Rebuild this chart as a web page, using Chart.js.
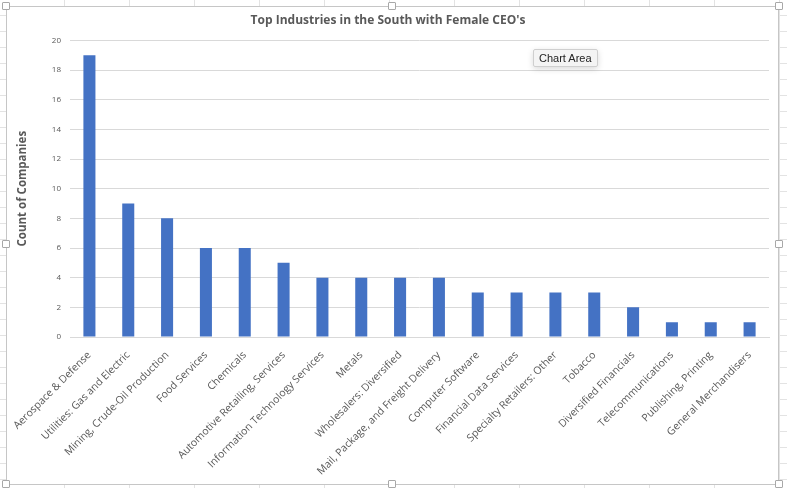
<!DOCTYPE html>
<html>
<head>
<meta charset="utf-8">
<script src="https://cdn.jsdelivr.net/npm/chart.js@4.4.1/dist/chart.umd.min.js"></script>
<style>
  html, body { margin: 0; padding: 0; }
  body {
    width: 787px; height: 488px; overflow: hidden; position: relative;
    background-color: #fff;
    background-image:
      repeating-linear-gradient(to right, transparent 0 64px, #e3e3e3 64px 65px),
      repeating-linear-gradient(to bottom, transparent 0 15px, #e3e3e3 15px 16px);
    font-family: "Liberation Sans", Arial, sans-serif;
  }
  #frame {
    position: absolute; left: 6px; top: 6px; width: 771px; height: 477px;
    border: 1px solid #c6c6c6; background: #fff;
  }
  #frame canvas { display: block; }
  .handle {
    position: absolute; width: 6px; height: 6px; background: #fff;
    border: 1px solid #a8a8a8; border-radius: 1px;
  }
  #tip {
    position: absolute; left: 533px; top: 49px; padding: 2px 5px;
    font-size: 11px; color: #222; background: #f4f4f4;
    border: 1px solid #cfcfcf; border-radius: 2px;
    box-shadow: 0 2px 6px rgba(0,0,0,0.15);
  }
</style>
</head>
<body>
<div id="frame"><canvas id="chart" width="771" height="477"></canvas></div>
<div class="handle" style="left:2px;top:2px"></div>
<div class="handle" style="left:388px;top:2px"></div>
<div class="handle" style="left:775px;top:2px"></div>
<div class="handle" style="left:2px;top:240px"></div>
<div class="handle" style="left:775px;top:240px"></div>
<div class="handle" style="left:2px;top:480px"></div>
<div class="handle" style="left:388px;top:480px"></div>
<div class="handle" style="left:775px;top:480px"></div>
<div id="tip">Chart Area</div>
<script>
const industries = [
  'Aerospace & Defense', 'Utilities: Gas and Electric', 'Mining, Crude-Oil Production',
  'Food Services', 'Chemicals', 'Automotive Retailing, Services',
  'Information Technology Services', 'Metals', 'Wholesalers: Diversified',
  'Mail, Package, and Freight Delivery', 'Computer Software', 'Financial Data Services',
  'Specialty Retailers: Other', 'Tobacco', 'Diversified Financials',
  'Telecommunications', 'Publishing, Printing', 'General Merchandisers'
];
const companyCounts = [19, 9, 8, 6, 6, 5, 4, 4, 4, 4, 3, 3, 3, 3, 2, 1, 1, 1];
const yMax = 20;
const yStep = 2;

const textGray = '#595959';
const font = '"Open Sans", "Liberation Sans", sans-serif';

new Chart(document.getElementById('chart').getContext('2d'), {
  type: 'bar',
  data: {
    labels: industries,
    datasets: [{
      label: 'Count of Companies',
      data: companyCounts,
      backgroundColor: '#4472C4',
      categoryPercentage: 1,
      barPercentage: 0.31
    }]
  },
  options: {
    responsive: false,
    animation: false,
    layout: { padding: { left: 0, right: 9, top: 0, bottom: 0 } },
    plugins: {
      legend: { display: false },
      tooltip: { enabled: false },
      title: {
        display: true,
        text: "Top Industries in the South with Female CEO's",
        color: textGray,
        font: { family: font, size: 12, weight: 'bold' },
        padding: { top: 6, bottom: 13 }
      }
    },
    scales: {
      x: {
        grid: { display: false },
        border: { display: true, color: '#d9d9d9' },
        ticks: {
          color: textGray,
          font: { family: font, size: 10.5 },
          minRotation: 45,
          maxRotation: 45,
          autoSkip: false,
          padding: 4
        },
        afterFit: s => { s.height = 147; }
      },
      y: {
        min: 0,
        max: yMax,
        grid: { color: '#d9d9d9', drawTicks: false },
        border: { display: false },
        ticks: {
          stepSize: yStep,
          color: textGray,
          font: { family: font, size: 8 },
          padding: 9
        },
        title: {
          display: true,
          text: 'Count of Companies',
          color: textGray,
          font: { family: font, size: 11.5, weight: 'bold' },
          padding: { top: 9, bottom: 0 }
        },
        afterFit: s => { s.width = 63; }
      }
    }
  }
});
</script>
</body>
</html>
